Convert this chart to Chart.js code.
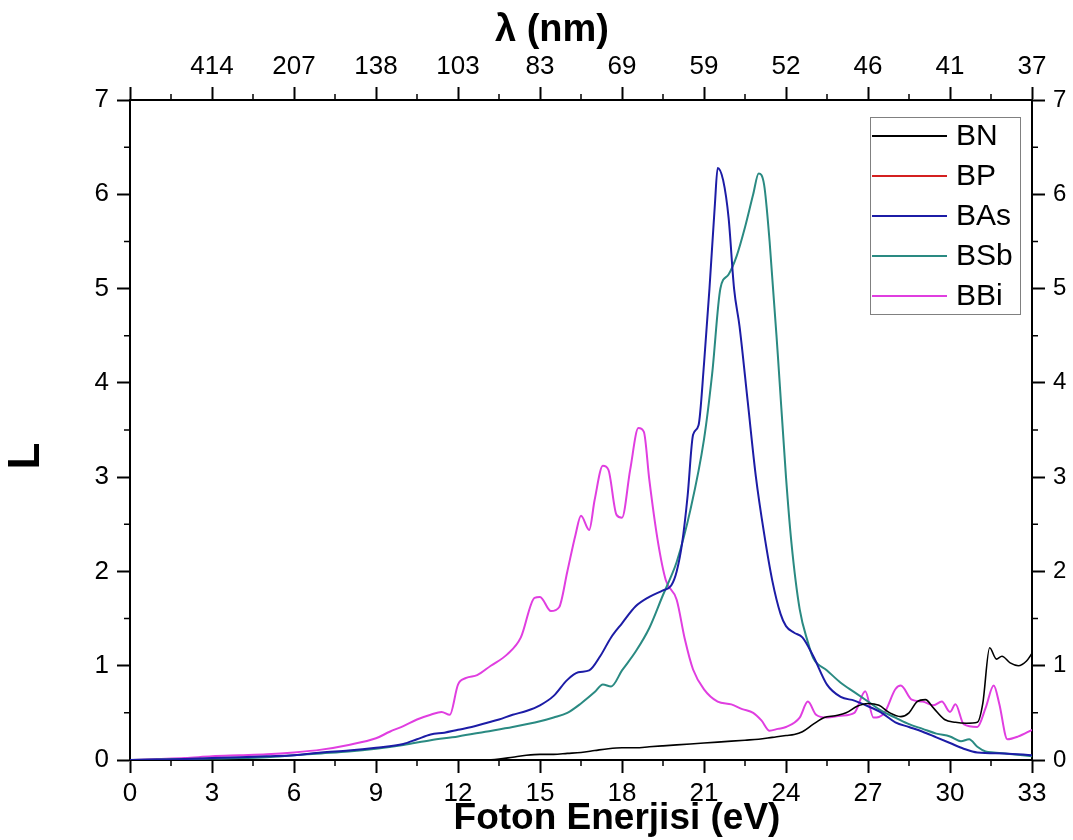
<!DOCTYPE html>
<html>
<head>
<meta charset="utf-8">
<script src="https://cdn.jsdelivr.net/npm/chart.js@4.4.1/dist/chart.umd.min.js"></script>
<style>
  html, body { margin: 0; padding: 0; background: #fff; }
  #wrap { width: 1073px; height: 840px; }
</style>
</head>
<body>
<div id="wrap"><canvas id="lossChart" width="1073" height="840"></canvas></div>
<script>
// Photon energy (eV) and loss function L for each compound
var bnE = [12.5, 13.0, 13.5, 14, 14.5, 15, 15.5, 16, 16.5, 17, 17.5, 18, 18.5, 19, 19.5, 20, 20.5, 21, 21.5, 22, 22.5, 23, 23.5, 24, 24.3, 24.6, 25, 25.4, 25.8, 26.2, 26.6, 27.0, 27.4, 27.8, 28.2, 28.5, 28.8, 29.1, 29.4, 29.8, 30.2, 30.6, 31.0, 31.2, 31.45, 31.7, 31.9, 32.2, 32.5, 32.8, 33];
var bnL = [0, 0, 0.01, 0.03, 0.05, 0.06, 0.06, 0.07, 0.08, 0.1, 0.12, 0.13, 0.13, 0.14, 0.15, 0.16, 0.17, 0.18, 0.19, 0.2, 0.21, 0.22, 0.24, 0.26, 0.27, 0.3, 0.38, 0.45, 0.47, 0.5, 0.57, 0.6, 0.58, 0.5, 0.46, 0.5, 0.62, 0.64, 0.55, 0.43, 0.4, 0.39, 0.4, 0.6, 1.19, 1.07, 1.1, 1.03, 1.0, 1.05, 1.13];

var bpE = [];
var bpL = [];

var basE = [0, 1, 2, 3, 4, 5, 6, 7, 8, 9, 10, 10.5, 11, 11.5, 12, 12.5, 13, 13.5, 14, 14.5, 15, 15.5, 16, 16.4, 16.8, 17.2, 17.6, 18, 18.5, 19, 19.5, 19.8, 20.0, 20.2, 20.4, 20.6, 20.8, 21.0, 21.2, 21.4, 21.5, 21.7, 21.9, 22.1, 22.3, 22.6, 22.9, 23.2, 23.5, 23.8, 24.0, 24.3, 24.6, 25, 25.5, 26, 26.5, 27, 27.5, 28, 28.5, 29, 29.5, 30, 30.5, 31, 32, 33];
var basL = [0, 0.005, 0.01, 0.02, 0.03, 0.04, 0.05, 0.08, 0.1, 0.13, 0.17, 0.22, 0.27, 0.29, 0.32, 0.35, 0.39, 0.43, 0.48, 0.52, 0.58, 0.68, 0.85, 0.93, 0.95, 1.1, 1.3, 1.45, 1.63, 1.73, 1.8, 1.85, 2.0, 2.3, 2.8, 3.45, 3.55, 4.2, 5.0, 5.9, 6.28, 6.15, 5.75, 5.0, 4.6, 3.8, 3.0, 2.4, 1.9, 1.55, 1.42, 1.35, 1.3, 1.1, 0.8, 0.67, 0.63, 0.57, 0.5, 0.4, 0.35, 0.3, 0.24, 0.18, 0.12, 0.08, 0.07, 0.05];

var bsbE = [0, 1, 2, 3, 4, 5, 6, 7, 8, 9, 10, 11, 12, 13, 14, 15, 15.5, 16, 16.5, 17, 17.3, 17.6, 18, 18.5, 19, 19.5, 19.8, 20.0, 20.5, 21, 21.3, 21.6, 21.9, 22.2, 22.5, 22.8, 23.0, 23.2, 23.4, 23.7, 24.0, 24.2, 24.5, 24.8, 25, 25.5, 26, 26.5, 27, 27.5, 28, 28.5, 29, 29.5, 30, 30.4, 30.7, 31.0, 31.3, 31.6, 32, 33];
var bsbL = [0, 0.005, 0.01, 0.015, 0.02, 0.03, 0.05, 0.07, 0.09, 0.12, 0.16, 0.21, 0.25, 0.3, 0.35, 0.41, 0.45, 0.5, 0.6, 0.72, 0.8, 0.78, 0.95, 1.15, 1.4, 1.75, 1.95, 2.1, 2.65, 3.4, 4.1, 5.0, 5.15, 5.35, 5.65, 6.0, 6.22, 6.1, 5.5, 4.3, 3.0, 2.3, 1.6, 1.25, 1.08, 0.95, 0.82, 0.72, 0.62, 0.52, 0.45, 0.38, 0.33, 0.28, 0.25, 0.2, 0.22, 0.14, 0.09, 0.08, 0.07, 0.04];

var bbiE = [0, 1, 2, 3, 4, 5, 6, 7, 8, 9, 9.5, 10, 10.5, 11, 11.4, 11.7, 12.0, 12.3, 12.7, 13.2, 13.8, 14.3, 14.8, 15.0, 15.4, 15.7, 16.0, 16.3, 16.5, 16.8, 17.0, 17.3, 17.5, 17.8, 18.0, 18.3, 18.6, 18.8, 19.0, 19.3, 19.6, 20.0, 20.3, 20.6, 21.0, 21.5, 22.0, 22.4, 22.8, 23.1, 23.4, 23.7, 24.0, 24.5, 24.8, 25.1, 25.5, 26.0, 26.5, 26.9, 27.2, 27.6, 28.0, 28.2, 28.6, 29.0, 29.4, 29.7, 30.0, 30.2, 30.5, 31.0, 31.3, 31.6, 31.8, 32.1, 32.5, 33];
var bbiL = [0, 0.01, 0.02, 0.04, 0.05, 0.06, 0.08, 0.11, 0.16, 0.23, 0.3, 0.36, 0.43, 0.48, 0.51, 0.48, 0.8, 0.87, 0.9, 1.0, 1.12, 1.3, 1.72, 1.73, 1.58, 1.62, 2.0, 2.39, 2.59, 2.44, 2.76, 3.12, 3.08, 2.6, 2.57, 3.08, 3.52, 3.48, 2.97, 2.34, 1.91, 1.7, 1.28, 0.96, 0.75, 0.62, 0.59, 0.54, 0.5, 0.42, 0.31, 0.33, 0.35, 0.45, 0.62, 0.48, 0.45, 0.47, 0.5, 0.73, 0.45, 0.5, 0.75, 0.79, 0.64, 0.62, 0.58, 0.62, 0.51, 0.59, 0.38, 0.35, 0.55, 0.79, 0.6, 0.22, 0.25, 0.32];

// wavelength labels for the top axis, one per 3 eV tick
var lambdaLabels = ['', '414', '207', '138', '103', '83', '69', '59', '52', '46', '41', '37'];

var FONT = '"Liberation Sans", Arial, sans-serif';

function pts(xs, ys) {
    return xs.map(function (x, i) { return { x: x, y: ys[i] }; });
}

function series(label, xs, ys, color, width) {
    return {
        label: label,
        data: pts(xs, ys),
        borderColor: color,
        backgroundColor: color,
        borderWidth: width,
        pointRadius: 0,
        cubicInterpolationMode: 'monotone',
        fill: false
    };
}

// minor ticks, axis titles and the boxed legend
var decorations = {
    id: 'decorations',
    afterDraw: function (chart) {
        var ctx = chart.ctx;
        var a = chart.chartArea;
        ctx.save();

        // minor ticks halfway between major ones
        ctx.strokeStyle = '#000';
        ctx.lineWidth = 1.5;
        ctx.beginPath();
        for (var e = 1.5; e < 33; e += 3) {
            var px = chart.scales.x.getPixelForValue(e);
            ctx.moveTo(px, a.bottom); ctx.lineTo(px, a.bottom + 6);
            ctx.moveTo(px, a.top); ctx.lineTo(px, a.top - 6);
        }
        for (var v = 0.5; v < 7; v += 1) {
            var py = chart.scales.y.getPixelForValue(v);
            ctx.moveTo(a.left, py); ctx.lineTo(a.left - 6, py);
            ctx.moveTo(a.right, py); ctx.lineTo(a.right + 6, py);
        }
        ctx.stroke();

        // axis titles
        var mid = (a.left + a.right) / 2;
        ctx.fillStyle = '#000';
        ctx.textAlign = 'center';
        ctx.textBaseline = 'alphabetic';
        ctx.font = 'bold 37px ' + FONT;
        ctx.fillText('Foton Enerjisi (eV)', mid + 36, 829);
        ctx.font = 'bold 38px ' + FONT;
        ctx.fillText('\u03bb (nm)', mid - 29, 41);

        ctx.save();
        ctx.translate(27, 456);
        ctx.rotate(-Math.PI / 2);
        ctx.textBaseline = 'middle';
        ctx.font = 'bold 44px ' + FONT;
        ctx.fillText('L', 0, 0);
        ctx.restore();

        // legend box
        var bw = 150, bh = 197;
        var bx = a.right - 12 - bw, by = a.top + 17;
        ctx.strokeStyle = '#808080';
        ctx.lineWidth = 1;
        ctx.strokeRect(bx + 0.5, by + 0.5, bw, bh);
        ctx.font = '30px ' + FONT;
        ctx.textAlign = 'left';
        ctx.textBaseline = 'middle';
        chart.data.datasets.forEach(function (ds, i) {
            var ry = by + 19 + i * 40;
            ctx.strokeStyle = ds.borderColor;
            ctx.lineWidth = 2;
            ctx.beginPath();
            ctx.moveTo(bx + 2, ry);
            ctx.lineTo(bx + 77, ry);
            ctx.stroke();
            ctx.fillStyle = '#000';
            ctx.fillText(ds.label, bx + 86, ry + 1);
        });
        ctx.restore();
    }
};

function axisGrid() {
    return { drawOnChartArea: false, drawTicks: true, tickLength: 13, tickWidth: 2, color: '#000' };
}

var ctx = document.getElementById('lossChart').getContext('2d');
var lossChart = new Chart(ctx, {
    type: 'line',
    data: {
        datasets: [
            series('BN', bnE, bnL, '#000000', 1.6),
            series('BP', bpE, bpL, '#d42020', 2),
            series('BAs', basE, basL, '#1c1ca6', 2),
            series('BSb', bsbE, bsbL, '#2a8a82', 2),
            series('BBi', bbiE, bbiL, '#e03ee0', 2)
        ]
    },
    options: {
        responsive: false,
        animation: false,
        devicePixelRatio: 1,
        layout: { padding: 0 },
        plugins: { legend: { display: false }, tooltip: { enabled: false } },
        scales: {
            x: {
                type: 'linear', position: 'bottom', min: 0, max: 33,
                afterFit: function (s) { s.height = 80; },
                ticks: { stepSize: 3, color: '#000', padding: 5, font: { family: FONT, size: 26 } },
                grid: axisGrid(),
                border: { display: true, color: '#000', width: 2 }
            },
            x2: {
                type: 'linear', position: 'top', min: 0, max: 33,
                afterFit: function (s) { s.height = 100; },
                ticks: {
                    stepSize: 3, color: '#000', padding: 5, font: { family: FONT, size: 26 },
                    callback: function (value) { return lambdaLabels[Math.round(value / 3)]; }
                },
                grid: axisGrid(),
                border: { display: true, color: '#000', width: 2 }
            },
            y: {
                type: 'linear', position: 'left', min: 0, max: 7,
                afterFit: function (s) { s.width = 130; },
                ticks: { stepSize: 1, color: '#000', padding: 8, font: { family: FONT, size: 26 } },
                grid: axisGrid(),
                border: { display: true, color: '#000', width: 2 }
            },
            y2: {
                type: 'linear', position: 'right', min: 0, max: 7,
                afterFit: function (s) { s.width = 41; },
                ticks: { stepSize: 1, color: '#000', padding: 8, font: { family: FONT, size: 24 } },
                grid: axisGrid(),
                border: { display: true, color: '#000', width: 2 }
            }
        }
    },
    plugins: [decorations]
});
</script>
</body>
</html>
